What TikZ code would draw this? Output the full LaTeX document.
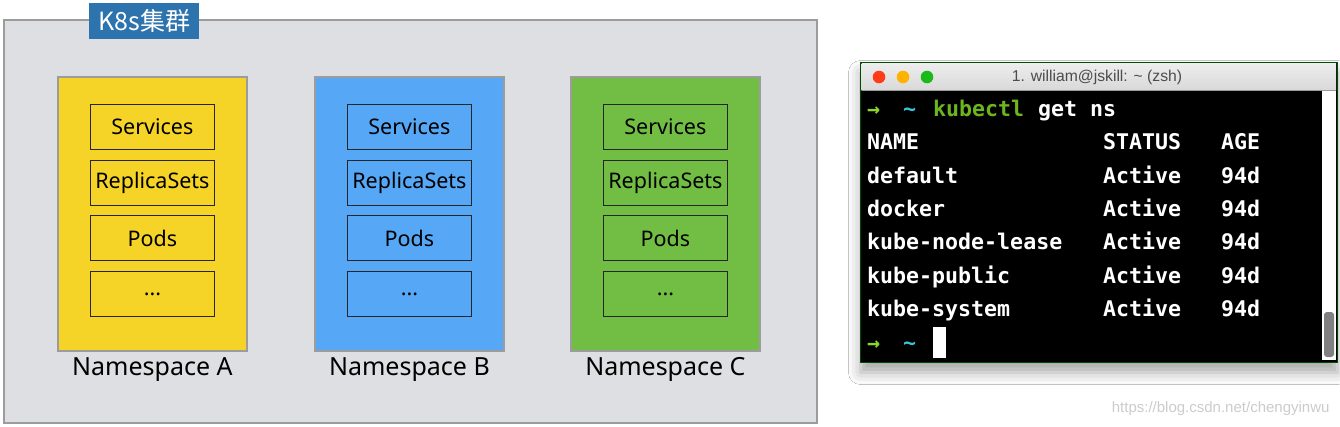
\documentclass[tikz,border=0pt]{standalone}
\usepackage{fontspec}
\setmainfont{Noto Sans}
\newfontfamily\cjk{Noto Sans CJK SC}
\newfontfamily\termfont{DejaVu Sans Mono}
\newfontfamily\uifont{Liberation Sans}
\usetikzlibrary{shadows.blur}
\definecolor{clgray}{HTML}{DEDFE2}
\definecolor{clborder}{HTML}{9C9C9C}
\definecolor{kblue}{HTML}{2D74AE}
\definecolor{nsyellow}{HTML}{F5D327}
\definecolor{nsblue}{HTML}{56A8F6}
\definecolor{nsgreen}{HTML}{72BE44}
\definecolor{tgreen}{HTML}{8CD62A}
\definecolor{tcyan}{HTML}{35C8D8}
\definecolor{tkube}{HTML}{6CB51E}
\tikzset{
  nsbox/.style={draw=clborder, line width=1.8pt},
  itembox/.style={draw=black!85, line width=1.2pt, minimum width=124pt, minimum height=45pt, inner sep=0pt, font=\fontsize{21.5}{22}\selectfont},
  nslabel/.style={font=\fontsize{25}{26}\selectfont, anchor=center},
  term/.style={font=\termfont\bfseries\fontsize{21.6}{22}\selectfont, text=white, anchor=base west, inner sep=0pt},
}
\begin{document}
\begin{tikzpicture}[x=1pt,y=-1pt]
\useasboundingbox (0,0) rectangle (1340,426);
\fill[white] (0,0) rectangle (1340,426);
% cluster
\node[draw=clborder, line width=1.8pt, fill=clgray, minimum width=813pt, minimum height=403pt, anchor=north west, inner sep=0pt] (cluster) at (3,19) {};
\node[fill=kblue, text=white, font=\cjk\fontsize{25}{26}\selectfont, minimum width=110pt, minimum height=36pt, inner sep=0pt, anchor=north west] (title) at (89,3) {K8s集群};
% namespaces
\foreach \nm/\x/\col/\lab in {A/57/nsyellow/Namespace A, B/314/nsblue/Namespace B, C/570/nsgreen/Namespace C}{
  \node[nsbox, fill=\col, minimum width=189pt, minimum height=274pt, anchor=north west, inner sep=0pt] (ns\nm) at (\x,76) {};
  \node[itembox, anchor=north] (svc\nm) at ([yshift=-28pt]ns\nm.north) {Services};
  \node[itembox, anchor=north] (rs\nm) at ([yshift=-84pt]ns\nm.north) {ReplicaSets};
  \node[itembox, anchor=north] (pod\nm) at ([yshift=-139pt]ns\nm.north) {Pods};
  \node[itembox, anchor=north] (etc\nm) at ([yshift=-195pt]ns\nm.north) {...};
  \node[nslabel] (lab\nm) at ([yshift=-18pt]ns\nm.south) {\lab};
}
% terminal window
\node[fill=black, draw=black!70!green, line width=1pt, minimum width=477pt, minimum height=300pt, anchor=north west, inner sep=0pt, blur shadow={shadow xshift=0pt, shadow yshift=-10pt, shadow blur radius=12pt, shadow opacity=35}] (win) at (860,62) {};
\shade[top color=white!93!black, bottom color=white!85!black] (861.5,63.5) rectangle (1336,90);
\draw[black!40] (861.5,90) -- (1336,90);
\node[font=\uifont\fontsize{15.7}{16}\selectfont, text=black!70] (wtitle) at (1097,77) {1. william@jskill: \textasciitilde{} (zsh)};
\fill[red!70!orange!90] (879,77) circle (6.3pt);
\fill[orange!60!yellow] (903,77) circle (6.3pt);
\fill[green!70!black!90] (927,77) circle (6.3pt);
% scrollbar
\fill[white] (1322,91) rectangle (1336,360);
\fill[black!50, rounded corners=3pt] (1324,312) rectangle (1334,357);
% terminal text
\node[term, text=tgreen] (p1) at (867,116) {\textrightarrow};
\node[term, text=tcyan] (t1) at (903,116) {\textasciitilde};
\node[term, text=tkube] (k1) at (933,116) {kubectl};
\node[term] (k2) at (1038,116) {get ns};
\foreach \y/\n/\s/\a in {149/NAME/STATUS/AGE, 183/default/Active/94d, 216/docker/Active/94d, 249/kube-node-lease/Active/94d, 283/kube-public/Active/94d, 316/kube-system/Active/94d}{
  \node[term] at (867,\y) {\n};
  \node[term] at (1103,\y) {\s};
  \node[term] at (1221,\y) {\a};
}
\node[term, text=tgreen] (p2) at (867,350) {\textrightarrow};
\node[term, text=tcyan] (t2) at (903,350) {\textasciitilde};
\fill[white] (933,327) rectangle (946,358);
% watermark
\node[font=\uifont\fontsize{15}{16}\selectfont, text=black!20, anchor=east] (wm) at (1333,409) {https://blog.csdn.net/chengyinwu};
\end{tikzpicture}
\end{document}
